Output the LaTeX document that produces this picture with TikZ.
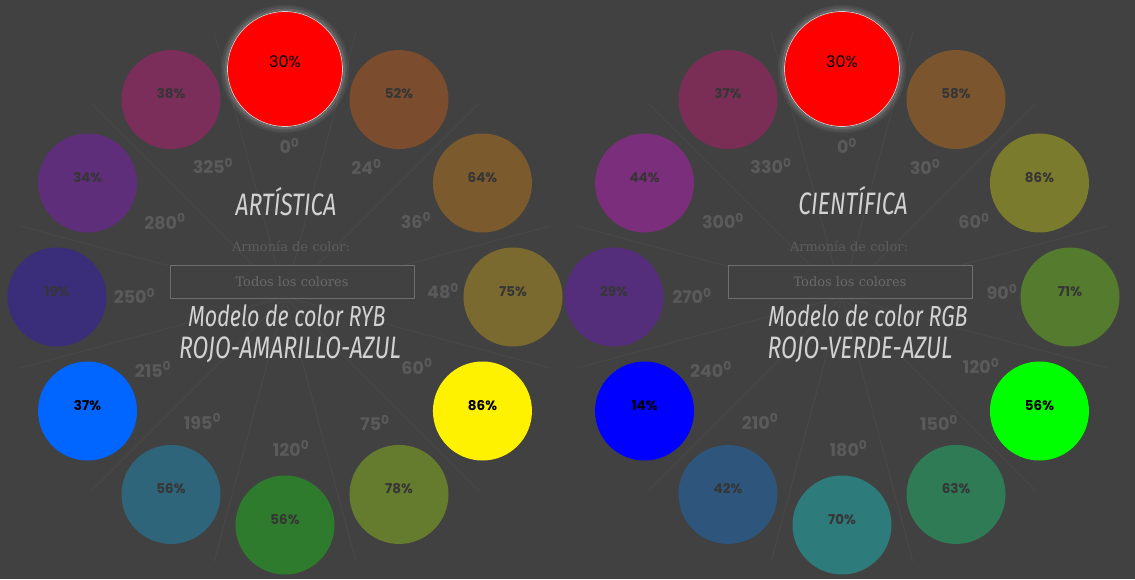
\documentclass[tikz,border=0pt]{standalone}
\usepackage{fontspec}
\setmainfont{Poppins}
\newfontfamily\slabfont{DejaVu Serif}
\newfontfamily\handfont[FakeStretch=0.74]{Fira Sans}
\usetikzlibrary{positioning}

\definecolor{bg}{HTML}{414141}
\definecolor{spokeline}{HTML}{484848}
\definecolor{degtext}{HTML}{5A5A5A}
\definecolor{handtext}{HTML}{D2D2D2}
\definecolor{harmtext}{HTML}{5E5E5E}
\definecolor{boxtext}{HTML}{6A6A6A}
\definecolor{boxline}{HTML}{6E6E6E}
\definecolor{pcttext}{HTML}{363636}
\definecolor{rim}{HTML}{D0D0D0}
% RYB wheel
\definecolor{ryb30}{HTML}{7B4C2E}
\definecolor{ryb60}{HTML}{7B5A2E}
\definecolor{ryb90}{HTML}{7B6A30}
\definecolor{ryb150}{HTML}{657B2E}
\definecolor{ryb180}{HTML}{2E7B2E}
\definecolor{ryb210}{HTML}{2E657B}
\definecolor{ryb240}{HTML}{0066FF}
\definecolor{ryb270}{HTML}{3A2E7B}
\definecolor{ryb300}{HTML}{5E2E7B}
\definecolor{ryb330}{HTML}{7B2E5A}
% RGB wheel
\definecolor{rgb30}{HTML}{7B552E}
\definecolor{rgb60}{HTML}{7B7B2E}
\definecolor{rgb90}{HTML}{557B2E}
\definecolor{rgb150}{HTML}{2E7B55}
\definecolor{rgb180}{HTML}{2E7B7B}
\definecolor{rgb210}{HTML}{2E557B}
\definecolor{rgb270}{HTML}{552E7B}
\definecolor{rgb300}{HTML}{7B2E7B}
\definecolor{rgb330}{HTML}{7B2E55}

\newcommand\angl[1]{#1\textsuperscript{0}}

\begin{document}
\begin{tikzpicture}[x=1pt, y=1pt,
  disc/.style={circle, inner sep=0pt, minimum size=99pt, text height=5pt, text depth=6.6pt, font=\fontsize{13.5}{14}\selectfont\bfseries, text=pcttext},
  main/.style={disc, minimum size=115pt, draw=rim, line width=.7pt, text height=5pt, text depth=8pt, font=\fontsize{16}{16}\selectfont, text=black},
  deg/.style={font=\fontsize{17.5}{18}\selectfont\bfseries, text=degtext},
  hand/.style={font=\handfont\itshape\fontsize{31}{31}\selectfont, text=handtext},
  harm/.style={font=\slabfont\fontsize{13}{13}\selectfont, text=harmtext},
  choice/.style={draw=boxline, fill=bg, minimum width=244pt, minimum height=33pt, inner sep=0pt, font=\slabfont\fontsize{13}{13}\selectfont, text=boxtext},
  spoke/.style={draw=spokeline, line width=.9pt}]
\useasboundingbox (0,0) rectangle (1135,579);
\fill[bg] (0,0) rectangle (1135,579);
\coordinate (wl) at (285,282);
\coordinate (wr) at (842,282);
\foreach \a in {75,45,...,-255} {
  \draw[spoke] (wl) -- ([shift={(\a:274)}]wl);
  \draw[spoke] (wr) -- ([shift={(\a:274)}]wr);
}

% left wheel: artistic (RYB)
\node[choice] (lbox) at (292,297.5) {Todos los colores};
\node[harm] (lharm) at (291,333) {Armonía de color:};
\node[hand] (ltitle) at (286,377) {ARTÍSTICA};
\node[hand, font=\handfont\itshape\fontsize{29}{29}\selectfont] (lmodel) at (287,263) {Modelo de color RYB};
\node[hand] (lnames) at (290,229) {ROJO-AMARILLO-AZUL};

\node[deg] (ld0) at (289.5,433) {\angl{0}};
\node[deg] (ld30) at (366.5,412) {\angl{24}};
\node[deg] (ld60) at (416,358.5) {\angl{36}};
\node[deg] (ld90) at (443,288) {\angl{48}};
\node[deg] (ld120) at (417,212.5) {\angl{60}};
\node[deg] (ld150) at (375,156) {\angl{75}};
\node[deg] (ld180) at (291,130.5) {\angl{120}};
\node[deg] (ld210) at (202.5,157.5) {\angl{195}};
\node[deg] (ld240) at (153,209.5) {\angl{215}};
\node[deg] (ld270) at (134.5,283) {\angl{250}};
\node[deg] (ld300) at (165,357.5) {\angl{280}};
\node[deg] (ld330) at (213,413) {\angl{325}};

\node[main, fill=red] (l0) at ([shift={(90:228)}]wl) {30\%};
\node[disc, fill=ryb30] (l30) at ([shift={(60:228)}]wl) {52\%};
\node[disc, fill=ryb60] (l60) at ([shift={(30:228)}]wl) {64\%};
\node[disc, fill=ryb90] (l90) at ([shift={(0:228)}]wl) {75\%};
\node[disc, fill=yellow, text=black] (l120) at ([shift={(-30:228)}]wl) {86\%};
\node[disc, fill=ryb150] (l150) at ([shift={(-60:228)}]wl) {78\%};
\node[disc, fill=ryb180] (l180) at ([shift={(-90:228)}]wl) {56\%};
\node[disc, fill=ryb210] (l210) at ([shift={(-120:228)}]wl) {56\%};
\node[disc, fill=ryb240, text=black] (l240) at ([shift={(-150:228)}]wl) {37\%};
\node[disc, fill=ryb270] (l270) at ([shift={(180:228)}]wl) {19\%};
\node[disc, fill=ryb300] (l300) at ([shift={(150:228)}]wl) {34\%};
\node[disc, fill=ryb330] (l330) at ([shift={(120:228)}]wl) {38\%};

% right wheel: scientific (RGB)
\node[choice] (rbox) at (850,297.5) {Todos los colores};
\node[harm] (rharm) at (849,333) {Armonía de color:};
\node[hand] (rtitle) at (853,378) {CIENTÍFICA};
\node[hand, font=\handfont\itshape\fontsize{29}{29}\selectfont] (rmodel) at (868,263) {Modelo de color RGB};
\node[hand] (rnames) at (860,229) {ROJO-VERDE-AZUL};

\node[deg] (rd0) at (847,433) {\angl{0}};
\node[deg] (rd30) at (925,412) {\angl{30}};
\node[deg] (rd60) at (974,358) {\angl{60}};
\node[deg] (rd90) at (1002,287) {\angl{90}};
\node[deg] (rd120) at (981,213) {\angl{120}};
\node[deg] (rd150) at (939,156) {\angl{150}};
\node[deg] (rd180) at (848.5,130.5) {\angl{180}};
\node[deg] (rd210) at (760,157.5) {\angl{210}};
\node[deg] (rd240) at (711,209.5) {\angl{240}};
\node[deg] (rd270) at (692,283) {\angl{270}};
\node[deg] (rd300) at (723,358) {\angl{300}};
\node[deg] (rd330) at (771,413) {\angl{330}};

\node[main, fill=red] (r0) at ([shift={(90:228)}]wr) {30\%};
\node[disc, fill=rgb30] (r30) at ([shift={(60:228)}]wr) {58\%};
\node[disc, fill=rgb60] (r60) at ([shift={(30:228)}]wr) {86\%};
\node[disc, fill=rgb90] (r90) at ([shift={(0:228)}]wr) {71\%};
\node[disc, fill=green, text=black] (r120) at ([shift={(-30:228)}]wr) {56\%};
\node[disc, fill=rgb150] (r150) at ([shift={(-60:228)}]wr) {63\%};
\node[disc, fill=rgb180] (r180) at ([shift={(-90:228)}]wr) {70\%};
\node[disc, fill=rgb210] (r210) at ([shift={(-120:228)}]wr) {42\%};
\node[disc, fill=blue, text=black] (r240) at ([shift={(-150:228)}]wr) {14\%};
\node[disc, fill=rgb270] (r270) at ([shift={(180:228)}]wr) {29\%};
\node[disc, fill=rgb300] (r300) at ([shift={(150:228)}]wr) {44\%};
\node[disc, fill=rgb330] (r330) at ([shift={(120:228)}]wr) {37\%};

% glow round the selected hue
\foreach \n in {l0,r0} {
  \draw[white, opacity=.20, line width=2pt] (\n.center) circle (59.2);
  \draw[white, opacity=.10, line width=2pt] (\n.center) circle (61.2);
  \draw[white, opacity=.05, line width=2pt] (\n.center) circle (63.2);
}
\end{tikzpicture}
\end{document}
